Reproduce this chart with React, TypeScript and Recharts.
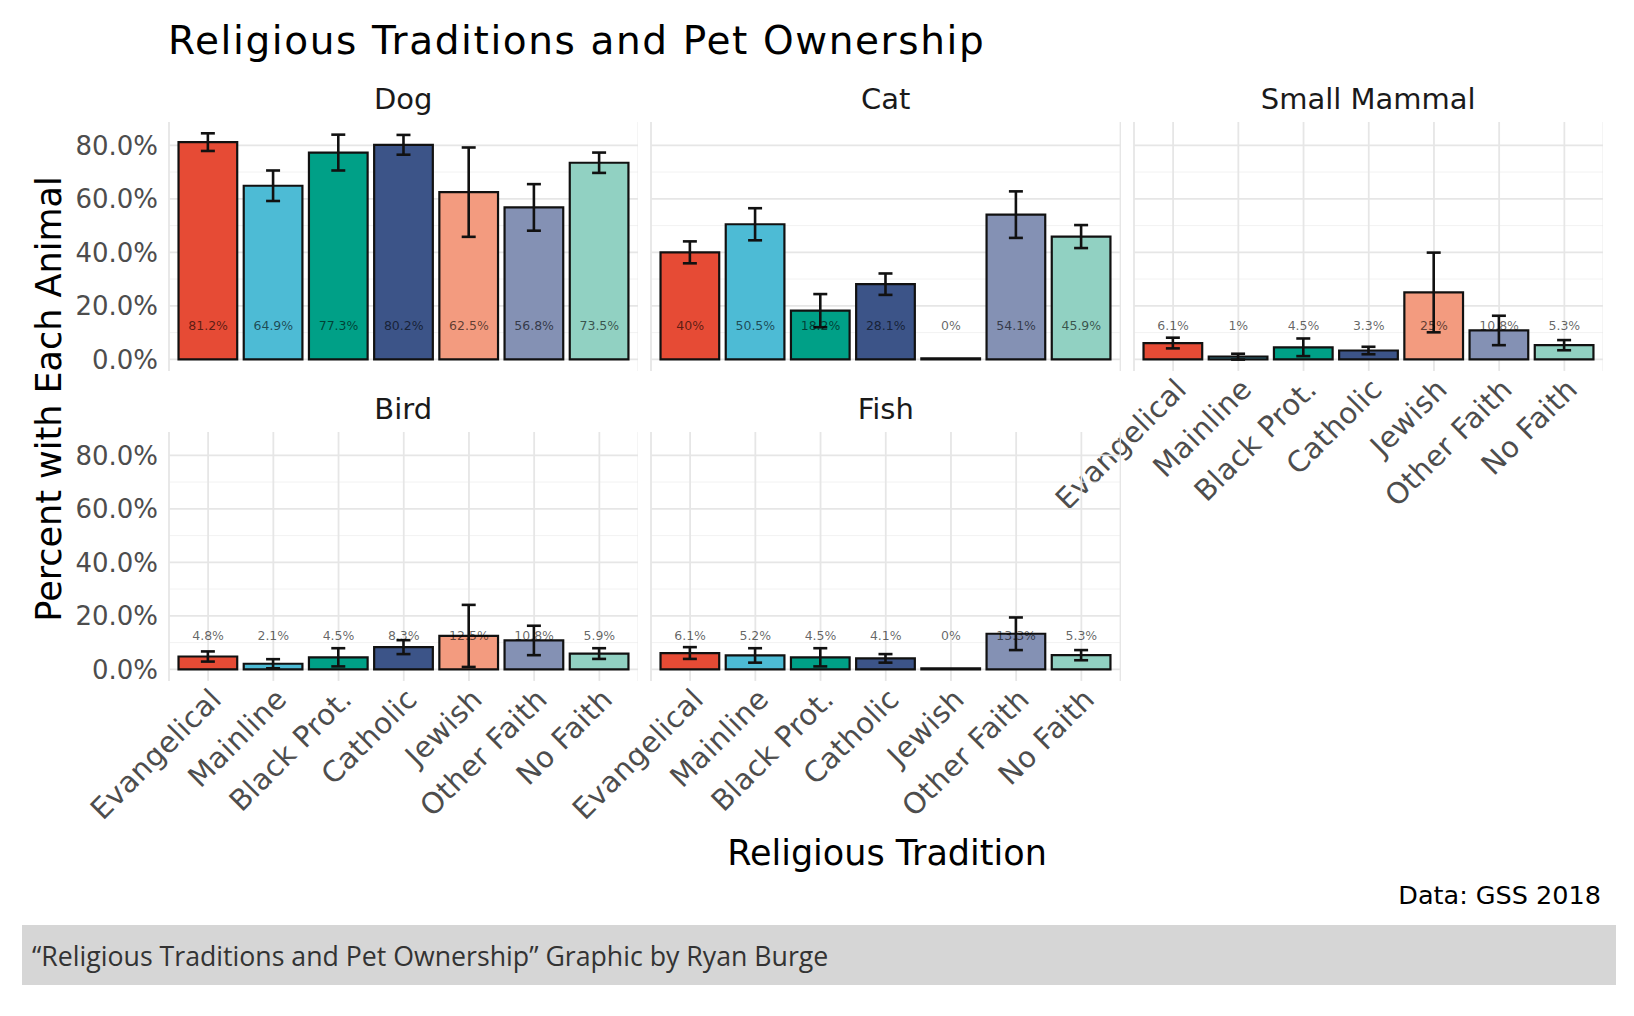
import React from "react";
import {
    ComposedChart,
    Bar,
    Line,
    XAxis,
    YAxis,
    CartesianGrid,
    ErrorBar,
    Cell,
} from "recharts";

// categories and palette
const traditions = ["Evangelical", "Mainline", "Black Prot.", "Catholic", "Jewish", "Other Faith", "No Faith"];
const colors = ["#E64B35", "#4DBBD5", "#00A087", "#3C5488", "#F39B7F", "#8491B4", "#91D1C2"];

// percent owning each animal, and half-width of the error bar
const dogPct = [81.2, 64.9, 77.3, 80.2, 62.5, 56.8, 73.5];
const dogErr = [3.3, 5.7, 6.7, 3.7, 16.7, 8.7, 3.8];
const catPct = [40, 50.5, 18.2, 28.1, 0, 54.1, 45.9];
const catErr = [4.1, 6.0, 6.2, 4.0, 0, 8.7, 4.3];
const smallMammalPct = [6.1, 1, 4.5, 3.3, 25, 10.8, 5.3];
const smallMammalErr = [2.0, 1.1, 3.3, 1.4, 14.9, 5.5, 1.9];
const birdPct = [4.8, 2.1, 4.5, 8.3, 12.5, 10.8, 5.9];
const birdErr = [1.9, 1.7, 3.4, 2.6, 11.6, 5.5, 2.0];
const fishPct = [6.1, 5.2, 4.5, 4.1, 0, 13.3, 5.3];
const fishErr = [2.2, 2.7, 3.4, 1.6, 0, 6.1, 1.9];

const yTicks = [0, 20, 40, 60, 80];
const yMinor = [10, 30, 50, 70];
const labelLevel = 12.7;

const FONT = "'DejaVu Sans', sans-serif";

// shared y range, like ggplot's fixed facet scales with 5% expansion
const allPct = [dogPct, catPct, smallMammalPct, birdPct, fishPct];
const allErr = [dogErr, catErr, smallMammalErr, birdErr, fishErr];
let hi = 0;
let lo = 0;
allPct.forEach((s, k) =>
    s.forEach((v, i) => {
        hi = Math.max(hi, v + allErr[k][i]);
        lo = Math.min(lo, v - allErr[k][i]);
    })
);
const span = hi - lo;
const Y_DOMAIN: [number, number] = [lo - 0.05 * span, hi + 0.05 * span];

// layout
const PX_PER_PCT = 2.675;
const ZERO_Y = [359.4, 669.1];
const ROW_TOP = ZERO_Y.map((z) => z - Y_DOMAIN[1] * PX_PER_PCT);
const PANEL_H = (Y_DOMAIN[1] - Y_DOMAIN[0]) * PX_PER_PCT;
const COL_X = [168.5, 651, 1133.5];
const PANEL_W = 469.5;
const UNIT = PANEL_W / 7.2;
const PAD = (PANEL_W - 7 * UNIT) / 2;
const BAR_W = 0.9 * UNIT;
const LEFT_SPACE = 150;

function RotTick(props: any) {
    const { x, y, payload } = props;
    const ax = x + 15;
    const ay = y + 12;
    return (
        <text
            x={ax}
            y={ay}
            transform={`rotate(-45 ${ax} ${ay})`}
            textAnchor="end"
            fontSize={29}
            letterSpacing={0.4}
            fontFamily={FONT}
            fill="#4d4d4d"
        >
            {payload.value}
        </text>
    );
}

function renderLabel(p: any) {
    return (
        <text
            key={p.index}
            x={p.cx}
            y={p.cy}
            textAnchor="middle"
            dominantBaseline="central"
            fontSize={12.5}
            fontFamily={FONT}
            fill="#000"
            fillOpacity={0.62}
        >
            {p.payload.label}
        </text>
    );
}

interface PanelProps {
    pct: number[];
    err: number[];
    col: number;
    row: number;
    showY: boolean;
    showX: boolean;
}

function Panel({ pct, err, col, row, showY, showX }: PanelProps) {
    const data = traditions.map((t, i) => ({
        tradition: t,
        pct: pct[i],
        err: err[i],
        labelY: labelLevel,
        label: `${pct[i]}%`,
    }));
    const xH = showX ? 170 : 20;

    return (
        <div style={{ position: "absolute", left: COL_X[col] - LEFT_SPACE, top: ROW_TOP[row] }}>
            <ComposedChart
                width={LEFT_SPACE + PANEL_W}
                height={PANEL_H + xH}
                data={data}
                margin={{ top: 0, right: 0, bottom: 0, left: showY ? 0 : LEFT_SPACE }}
            >
                <CartesianGrid horizontalValues={yMinor} vertical={false} stroke="#f2f2f2" strokeWidth={1} />
                <CartesianGrid horizontalValues={yTicks} stroke="#e6e6e6" strokeWidth={1.8} />
                <XAxis
                    dataKey="tradition"
                    type="category"
                    height={xH}
                    padding={{ left: PAD, right: PAD }}
                    axisLine={false}
                    tickLine={false}
                    interval={0}
                    tick={showX ? <RotTick /> : false}
                />
                <YAxis
                    type="number"
                    domain={Y_DOMAIN}
                    allowDataOverflow
                    ticks={yTicks}
                    interval={0}
                    width={LEFT_SPACE}
                    hide={!showY}
                    axisLine={false}
                    tickLine={false}
                    tickSize={0}
                    tickMargin={11}
                    tickFormatter={(v: number) => `${v.toFixed(1)}%`}
                    tick={{ fontSize: 26, fontFamily: FONT, fill: "#4d4d4d" }}
                />
                <Bar
                    dataKey="pct"
                    barSize={BAR_W}
                    stroke="#111"
                    strokeWidth={2.2}
                    minPointSize={1}
                    isAnimationActive={false}
                >
                    {data.map((d, i) => (
                        <Cell key={d.tradition} fill={colors[i]} />
                    ))}
                    <ErrorBar dataKey="err" width={7} stroke="#111" strokeWidth={2.6} />
                </Bar>
                <Line
                    dataKey="labelY"
                    stroke="none"
                    dot={renderLabel}
                    activeDot={false}
                    isAnimationActive={false}
                />
            </ComposedChart>
        </div>
    );
}

const panels = [
    { name: "Dog", pct: dogPct, err: dogErr, col: 0, row: 0, showY: true, showX: false },
    { name: "Cat", pct: catPct, err: catErr, col: 1, row: 0, showY: false, showX: false },
    { name: "Small Mammal", pct: smallMammalPct, err: smallMammalErr, col: 2, row: 0, showY: false, showX: true },
    { name: "Bird", pct: birdPct, err: birdErr, col: 0, row: 1, showY: true, showX: true },
    { name: "Fish", pct: fishPct, err: fishErr, col: 1, row: 1, showY: false, showX: true },
];

export default function App() {
    return (
        <div
            style={{
                position: "absolute",
                left: 0,
                top: 0,
                width: 1634,
                height: 1016,
                background: "#fff",
                overflow: "hidden",
            }}
        >
            {panels.map((p) => (
                <Panel key={p.name} {...p} />
            ))}

            <svg
                width={1634}
                height={1016}
                style={{ position: "absolute", left: 0, top: 0, pointerEvents: "none" }}
            >
                <text x={168} y={54} fontSize={39} letterSpacing={1.6} fontFamily={FONT} fill="#000">
                    Religious Traditions and Pet Ownership
                </text>

                {panels.map((p) => (
                    <text
                        key={p.name}
                        x={COL_X[p.col] + PANEL_W / 2}
                        y={ROW_TOP[p.row] - 13}
                        textAnchor="middle"
                        fontSize={29}
                        fontFamily={FONT}
                        fill="#1a1a1a"
                    >
                        {p.name}
                    </text>
                ))}

                <text
                    transform="translate(61 399) rotate(-90)"
                    textAnchor="middle"
                    fontSize={35}
                    fontFamily={FONT}
                    fill="#000"
                >
                    Percent with Each Animal
                </text>

                <text x={887} y={865} textAnchor="middle" fontSize={35} fontFamily={FONT} fill="#000">
                    Religious Tradition
                </text>

                <text x={1601} y={904} textAnchor="end" fontSize={25.5} fontFamily={FONT} fill="#000">
                    Data: GSS 2018
                </text>

                <rect x={22} y={925} width={1594} height={60} fill="#d6d6d6" />
                <text x={32} y={966} fontSize={26.7} fontFamily="'Open Sans', sans-serif" fill="#333">
                    “Religious Traditions and Pet Ownership” Graphic by Ryan Burge
                </text>
            </svg>
        </div>
    );
}
